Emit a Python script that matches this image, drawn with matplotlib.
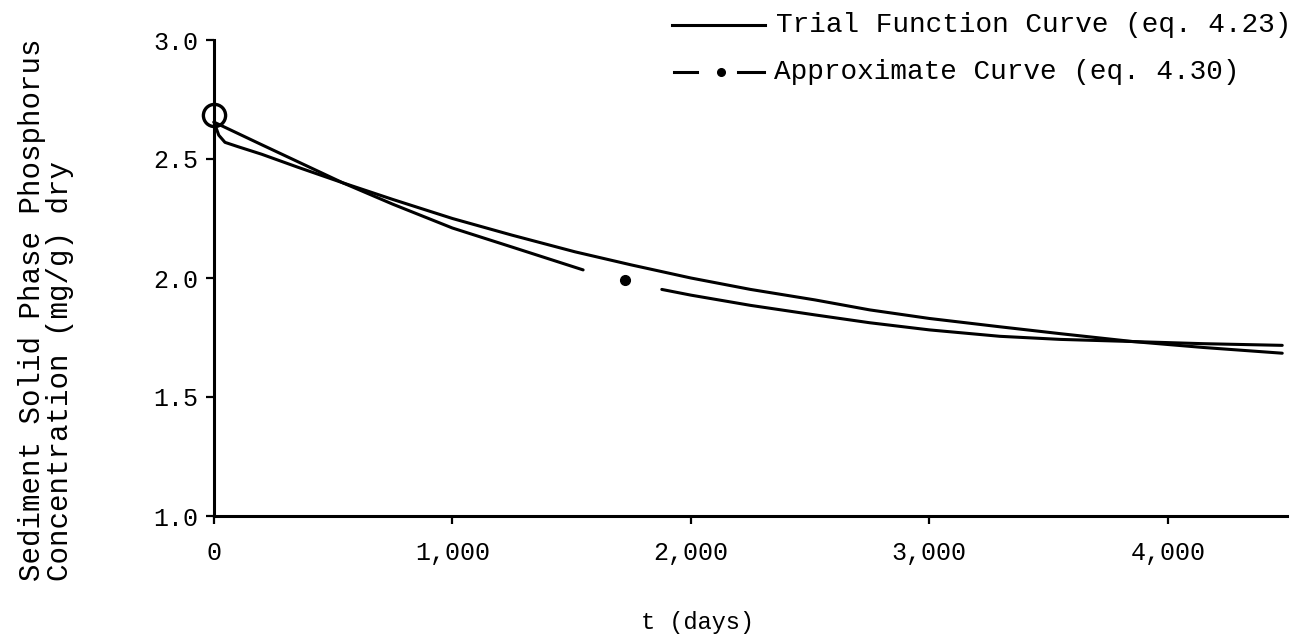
import numpy as np
import matplotlib
matplotlib.use("Agg")
import matplotlib.pyplot as plt
from matplotlib.lines import Line2D

# ---------------- data ----------------
trial_t = [0, 20, 46, 100, 200, 350, 540, 750, 1000, 1250, 1514, 1750, 2000,
           2250, 2520, 2750, 3000, 3296, 3550, 3853, 4150, 4480]
trial_c = [2.655, 2.60, 2.57, 2.552, 2.52, 2.466, 2.40, 2.33, 2.25, 2.18, 2.11,
           2.055, 2.00, 1.952, 1.908, 1.866, 1.83, 1.795, 1.766, 1.733, 1.708, 1.684]

approx_t = [0, 200, 540, 750, 1000, 1250, 1548, 1878, 2000, 2250, 2520, 2750,
            3000, 3296, 3550, 3853, 4150, 4480]
approx_c = [2.655, 2.56, 2.40, 2.31, 2.21, 2.13, 2.034, 1.952, 1.928, 1.885,
            1.845, 1.812, 1.782, 1.755, 1.742, 1.733, 1.724, 1.717]
approx_gap = (1548, 1878)        # break in the dash-dot line
approx_dot_t = [1723]
approx_dot_c = [1.99]

initial_t = [0]
initial_c = [2.685]

x_ticks = [0, 1000, 2000, 3000, 4000]
x_ticklabels = ["0", "1,000", "2,000", "3,000", "4,000"]
y_ticks = [1.0, 1.5, 2.0, 2.5, 3.0]
y_ticklabels = ["1.0", "1.5", "2.0", "2.5", "3.0"]

legend_labels = ["Trial Function Curve (eq. 4.23)", "Approximate Curve (eq. 4.30)"]
y_label = "Sediment Solid Phase Phosphorus\nConcentration (mg/g) dry"
x_label = "t (days)"

# ---------------- figure ----------------
FONT = "Liberation Mono"
plt.rcParams["font.family"] = [FONT, "DejaVu Sans Mono"]
W, H = 1300, 640
fig = plt.figure(figsize=(W / 100, H / 100), dpi=100)


def fx(px):
    return px / W


def fy(py):
    return 1 - py / H


ax = fig.add_axes([fx(214), fy(516), fx(1287) - fx(214), fy(40) - fy(516)])
ax.set_xlim(0, 4500)
ax.set_ylim(1.0, 3.0)

lw = 2.2
tt = np.array(trial_t, float)
tc = np.array(trial_c, float)
ax.plot(tt, tc, color="black", lw=lw, solid_capstyle="round",
        solid_joinstyle="round", clip_on=False)

at = np.array(approx_t, float)
ac = np.array(approx_c, float)
m1 = at <= approx_gap[0]
m2 = at >= approx_gap[1]
ax.plot(at[m1], ac[m1], color="black", lw=lw, solid_capstyle="round",
        solid_joinstyle="round", clip_on=False)
ax.plot(at[m2], ac[m2], color="black", lw=lw, solid_capstyle="round",
        solid_joinstyle="round", clip_on=False)
ax.plot(approx_dot_t, approx_dot_c, "o", color="black", ms=7)

ax.plot(initial_t, initial_c, "o", mfc="none", mec="black", mew=2.4, ms=16,
        clip_on=False, zorder=5)

for s in ["top", "right"]:
    ax.spines[s].set_visible(False)
for s in ["left", "bottom"]:
    ax.spines[s].set_linewidth(2.2)

ax.set_xticks(x_ticks)
ax.set_xticklabels(x_ticklabels)
ax.set_yticks(y_ticks)
ax.set_yticklabels(y_ticklabels)
ax.tick_params(axis="both", direction="out", length=6, width=1.6,
               labelsize=18, color="black")
ax.tick_params(axis="x", pad=12)
ax.tick_params(axis="y", pad=5)
for lab in ax.get_xticklabels() + ax.get_yticklabels():
    lab.set_family([FONT, "DejaVu Sans Mono"])

fig.text(fx(697), fy(622), x_label, ha="center", va="center", fontsize=17)
fig.text(fx(46), fy(310), y_label, ha="center", va="center", rotation=90,
         multialignment="left", fontsize=21, linespacing=1.0)

# ---------------- legend (drawn manually, as in the reference) ----------------
row1, row2 = 25, 72
fig.add_artist(Line2D([fx(672), fx(765)], [fy(row1), fy(row1)], color="black",
                      lw=lw, transform=fig.transFigure))
fig.text(fx(776), fy(row1), legend_labels[0], ha="left", va="center", fontsize=20)

fig.add_artist(Line2D([fx(674), fx(697)], [fy(row2), fy(row2)], color="black",
                      lw=lw, transform=fig.transFigure))
fig.add_artist(Line2D([fx(721)], [fy(row2)], marker="o", color="black", ms=5.5,
                      transform=fig.transFigure))
fig.add_artist(Line2D([fx(738), fx(764)], [fy(row2), fy(row2)], color="black",
                      lw=lw, transform=fig.transFigure))
fig.text(fx(774), fy(row2), legend_labels[1], ha="left", va="center", fontsize=20)

fig.savefig("out.png", dpi=100)
